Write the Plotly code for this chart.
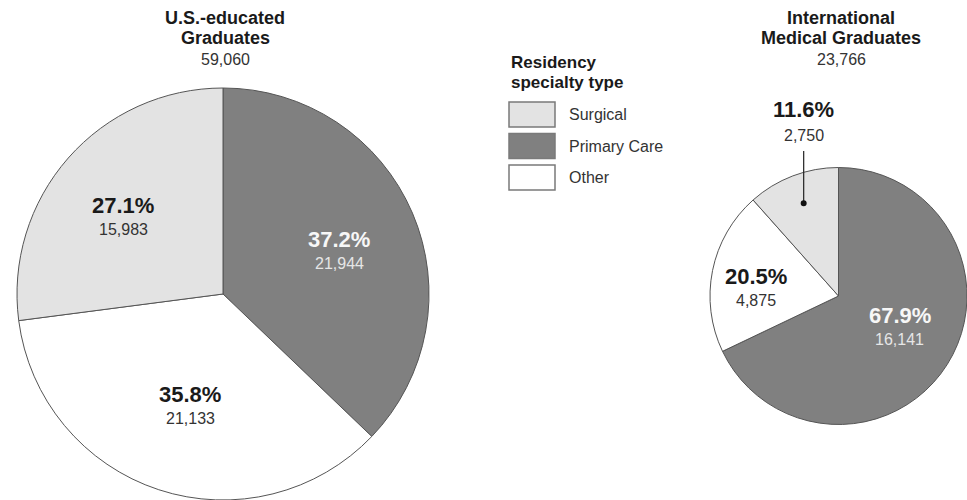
import math
import plotly.graph_objects as go

# ---- data ----
categories = ["Primary Care", "Other", "Surgical"]
us_values = [21944, 21133, 15983]
img_values = [16141, 4875, 2750]
us_title = ["U.S.-educated", "Graduates"]
img_title = ["International", "Medical Graduates"]
legend_items = ["Surgical", "Primary Care", "Other"]
legend_title = ["Residency", "specialty type"]

# ---- style ----
W, H = 967, 500
FONT = "Liberation Sans, Arial, Helvetica, sans-serif"
colors = {"Surgical": "#e3e3e3", "Primary Care": "#808080", "Other": "#ffffff"}
text_colors = {"Surgical": ("#1a1a1a", "#333333"),
               "Primary Care": ("#f7f7f7", "#e6e6e6"),
               "Other": ("#1a1a1a", "#333333")}

pies = [
    dict(values=us_values, title=us_title, cx=223, cy=294, r=206,
         frac={"Primary Care": 0.60, "Other": 0.57, "Surgical": 0.61},
         nudge={"Primary Care": 3, "Other": -2, "Surgical": -4},
         callout=[]),
    dict(values=img_values, title=img_title, cx=839, cy=296, r=129,
         frac={"Primary Care": 0.53, "Other": 0.65, "Surgical": 0.77},
         nudge={"Primary Care": -5, "Other": -6, "Surgical": 0},
         callout=["Surgical"]),
]


def px(x):
    return x / W


def py(y):
    return 1 - y / H


fig = go.Figure()
annotations = []
shapes = []

for p in pies:
    cx, cy, r = p["cx"], p["cy"], p["r"]
    vals = p["values"]
    total = sum(vals)
    fig.add_trace(go.Pie(
        labels=categories, values=vals, sort=False, direction="clockwise",
        rotation=0, textinfo="none", hoverinfo="label+value+percent",
        marker=dict(colors=[colors[c] for c in categories],
                    line=dict(color="#555555", width=1)),
        domain=dict(x=[px(cx - r), min(1, px(cx + r))], y=[max(0, py(cy + r)), py(cy - r)]),
        showlegend=False,
    ))
    # titles
    for i, line in enumerate(p["title"]):
        annotations.append(dict(
            x=px(cx + 2), y=py(18 + 20 * i), xref="paper", yref="paper",
            text="<b>%s</b>" % line, showarrow=False, xanchor="center",
            yanchor="middle", font=dict(family=FONT, size=18, color="#1a1a1a")))
    annotations.append(dict(
        x=px(cx + 2), y=py(59), xref="paper", yref="paper",
        text="{:,}".format(total), showarrow=False, xanchor="center",
        yanchor="middle", font=dict(family=FONT, size=16, color="#333333")))
    # slice labels
    cum = 0
    for cat, v in zip(categories, vals):
        mid = (cum + v / 2) / total * 360 + p["nudge"][cat]
        cum += v
        d = p["frac"][cat] * r
        lx = cx + d * math.sin(math.radians(mid))
        ly = cy - d * math.cos(math.radians(mid))
        pct = "{:.1f}%".format(v / total * 100)
        cnt = "{:,}".format(v)
        c1, c2 = text_colors[cat]
        if cat in p["callout"]:
            top = cy - r
            shapes.append(dict(type="line", xref="paper", yref="paper",
                               x0=px(lx), x1=px(lx), y0=py(ly), y1=py(top - 16),
                               line=dict(color="#222222", width=1.2)))
            shapes.append(dict(type="circle", xref="paper", yref="paper",
                               x0=px(lx - 3), x1=px(lx + 3), y0=py(ly + 3), y1=py(ly - 3),
                               fillcolor="#111111", line=dict(color="#111111", width=0)))
            y_pct, y_cnt = top - 57, top - 32
        else:
            y_pct, y_cnt = ly - 12, ly + 12
        annotations.append(dict(
            x=px(lx), y=py(y_pct), xref="paper", yref="paper",
            text="<b>%s</b>" % pct, showarrow=False, xanchor="center",
            yanchor="middle", font=dict(family=FONT, size=22, color=c1)))
        annotations.append(dict(
            x=px(lx), y=py(y_cnt), xref="paper", yref="paper",
            text=cnt, showarrow=False, xanchor="center",
            yanchor="middle", font=dict(family=FONT, size=16, color=c2)))

# legend (custom)
for i, line in enumerate(legend_title):
    annotations.append(dict(
        x=px(509), y=py(62 + 20 * i), xref="paper", yref="paper",
        text="<b>%s</b>" % line, showarrow=False, xanchor="left",
        yanchor="middle", font=dict(family=FONT, size=17, color="#1a1a1a")))
for i, cat in enumerate(legend_items):
    y0 = 102 + 31.5 * i
    shapes.append(dict(type="rect", xref="paper", yref="paper",
                       x0=px(509), x1=px(555), y0=py(y0 + 25), y1=py(y0),
                       fillcolor=colors[cat], line=dict(color="#7a7a7a", width=1.5)))
    annotations.append(dict(
        x=px(567), y=py(y0 + 12.5), xref="paper", yref="paper",
        text=cat, showarrow=False, xanchor="left", yanchor="middle",
        font=dict(family=FONT, size=16, color="#333333")))

fig.update_layout(
    width=W, height=H, margin=dict(l=0, r=0, t=0, b=0),
    paper_bgcolor="white", plot_bgcolor="white",
    annotations=annotations, shapes=shapes, showlegend=False,
)

fig.write_html("out.html")
